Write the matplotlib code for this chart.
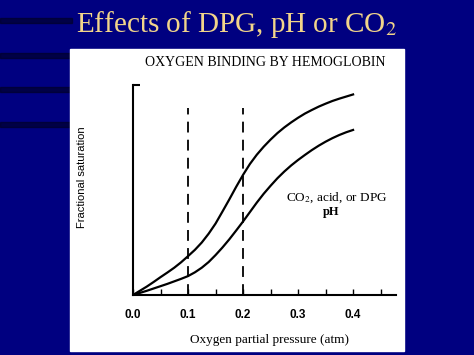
import matplotlib.pyplot as plt
from matplotlib.patches import Rectangle

plt.rcParams['mathtext.fontset'] = 'stix'

# Oxygen binding curves
pressure = [0.0, 0.0125, 0.025, 0.0375, 0.05, 0.0625, 0.075, 0.0875, 0.1,
            0.1125, 0.125, 0.1375, 0.15, 0.1625, 0.175, 0.1875, 0.2,
            0.2125, 0.225, 0.2375, 0.25, 0.2625, 0.275, 0.2875, 0.3,
            0.3125, 0.325, 0.3375, 0.35, 0.3625, 0.375, 0.3875, 0.4]
sat_normal = [0.0, 0.02, 0.04, 0.062, 0.085, 0.107, 0.13, 0.156, 0.185,
              0.215, 0.25, 0.292, 0.34, 0.397, 0.455, 0.515, 0.572,
              0.624, 0.668, 0.706, 0.74, 0.771, 0.798, 0.822, 0.844,
              0.864, 0.881, 0.897, 0.911, 0.924, 0.935, 0.945, 0.955]
sat_shifted = [0.0, 0.01, 0.02, 0.031, 0.042, 0.053, 0.065, 0.077, 0.09,
               0.108, 0.13, 0.157, 0.19, 0.226, 0.265, 0.307, 0.35,
               0.395, 0.44, 0.482, 0.52, 0.556, 0.588, 0.617, 0.643,
               0.667, 0.69, 0.711, 0.73, 0.747, 0.762, 0.775, 0.786]
dashed_at = [0.1, 0.2]
tick_vals = [0.0, 0.1, 0.2, 0.3, 0.4]
tick_labels = ['0.0', '0.1', '0.2', '0.3', '0.4']

W, H = 474, 355
fig = plt.figure(figsize=(W / 100, H / 100), dpi=100, facecolor='#000080')

# dark stripes on the left of the slide background
for y0 in [18, 53, 87, 122]:
    fig.patches.append(Rectangle((0, 1 - (y0 + 5) / H), 72 / W, 5 / H,
                                 transform=fig.transFigure, color='#000020',
                                 alpha=0.6, zorder=0))

# white picture panel
fig.patches.append(Rectangle((70 / W, 1 - 351 / H), 334 / W, 302 / H,
                             transform=fig.transFigure, color='white', zorder=1))

fig.text(237 / W, 1 - 24 / H, 'Effects of DPG, pH or CO$_2$', ha='center', va='center',
         fontsize=21, color='#f2d58a', family='Liberation Serif')
fig.text(265 / W, 1 - 63 / H, 'OXYGEN BINDING BY HEMOGLOBIN', ha='center', va='center',
         fontsize=10, color='black', family='Liberation Serif')

ax = fig.add_axes([133 / W, 1 - 295 / H, 263 / W, 210 / H])
ax.set_facecolor('none')
ax.set_zorder(2)

ax.plot(pressure, sat_normal, color='black', lw=1.6)
ax.plot(pressure, sat_shifted, color='black', lw=1.6)
for xv in dashed_at:
    ax.plot([xv, xv], [0, 0.89], color='black', lw=1.3, dashes=(6, 4))

ax.set_xlim(0, 0.478)
ax.set_ylim(0, 1)
for s in ['top', 'right']:
    ax.spines[s].set_visible(False)
for s in ['left', 'bottom']:
    ax.spines[s].set_linewidth(1.5)

ax.set_xticks(tick_vals)
ax.set_xticklabels(tick_labels, fontsize=8.5, fontweight='bold', family='Liberation Sans')
ax.set_xticks([0.05, 0.15, 0.25, 0.35, 0.45], minor=True)
ax.tick_params(axis='x', which='both', direction='in', length=4, width=1, pad=10)
ax.set_yticks([1.0])
ax.set_yticklabels([])
ax.tick_params(axis='y', direction='in', length=5, width=1.5)

fig.text(82 / W, 1 - 177 / H, 'Fractional saturation', rotation=90, ha='center', va='center',
         fontsize=8, family='Liberation Sans', zorder=3)
fig.text(270 / W, 1 - 340 / H, 'Oxygen partial pressure (atm)', ha='center', va='center',
         fontsize=9.5, family='Liberation Serif', zorder=3)

ax.text(0.278, 0.465, 'CO$_2$, acid, or DPG', fontsize=9.5, family='Liberation Serif',
        ha='left', va='center')
ax.text(0.36, 0.395, 'pH', fontsize=9, fontweight='bold', family='Liberation Serif',
        ha='center', va='center')

fig.savefig('out.png', dpi=100, facecolor=fig.get_facecolor())
